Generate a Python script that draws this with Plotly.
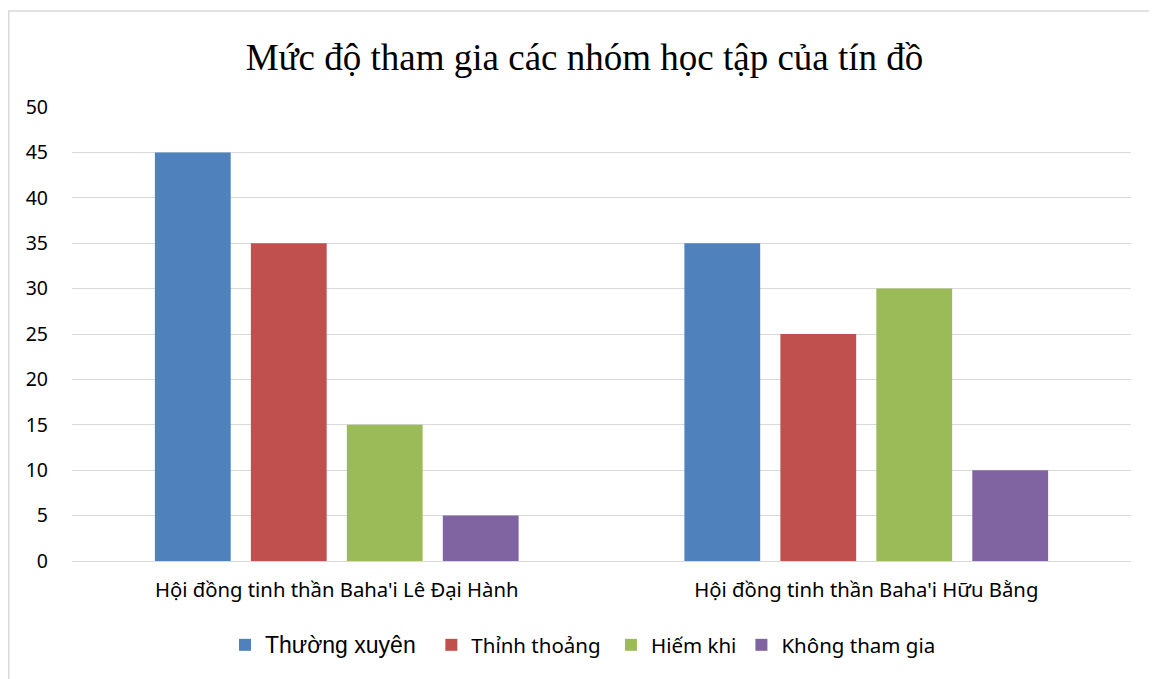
import plotly.graph_objects as go

categories = ["Hội đồng tinh thần Baha'i Lê Đại Hành", "Hội đồng tinh thần Baha'i Hữu Bằng"]
series_names = ["Thường xuyên", "Thỉnh thoảng", "Hiếm khi", "Không tham gia"]
thuong_xuyen = [45, 35]
thinh_thoang = [35, 25]
hiem_khi = [15, 30]
khong_tham_gia = [5, 10]
colors = ["#4f81bd", "#c0504d", "#9bbb59", "#8064a2"]
y_ticks = list(range(0, 51, 5))

# page has an 8px body margin; positions below are in figure pixels
W, H = 1157, 679
L, T = 64, 99
pw, ph = 1059, 454
R, B = W - L - pw, H - T - ph

pad = ["&nbsp;&nbsp;", "&nbsp;", "", ""]
fig = go.Figure()
values = [thuong_xuyen, thinh_thoang, hiem_khi, khong_tham_gia]
for i, (name, vals) in enumerate(zip(series_names, values)):
    label = name
    if i == 0:
        label = '<span style="font-family:Liberation Sans;font-size:23px">' + name + '</span>'
    label = label + pad[i]
    fig.add_trace(go.Bar(x=categories, y=vals, name=label, marker_color=colors[i],
                         marker_line_width=0))

fig.update_layout(
    width=W, height=H,
    margin=dict(l=L, r=R, t=T, b=B, autoexpand=False),
    paper_bgcolor="white", plot_bgcolor="white",
    barmode="group", bargap=0.275, bargroupgap=0.21,
    title=dict(text="Mức độ tham gia các nhóm học tập của tín đồ",
               font=dict(family="Liberation Serif", size=37, color="black"),
               x=576.5 / W, xanchor="center", y=1 - 49 / H, yanchor="middle"),
    font=dict(family="Noto Sans", color="black"),
    legend=dict(orientation="h", x=(575 - L) / pw, xanchor="center", y=-84 / ph, yanchor="middle",
                font=dict(size=20.5, family="Noto Sans", color="black"),
                itemwidth=30, traceorder="normal"),
    showlegend=True,
)
fig.update_xaxes(showgrid=False, showline=False, ticks="", tickfont=dict(size=20.3, color="black"),
                 ticklabelstandoff=15)
fig.update_yaxes(range=[0, 50], tickvals=y_ticks, showgrid=True, gridcolor="#d9d9d9", gridwidth=1.3,
                 zeroline=True, zerolinecolor="#d9d9d9", zerolinewidth=1.3, showline=False,
                 ticks="", tickfont=dict(size=19.5, color="black"), ticklabelstandoff=23)

# outer chart border
x0 = (0.8 - L) / pw
x1 = (W + 5 - L) / pw
y1 = 1 + (T - 3) / ph
y0 = -(H + 5 - T - ph) / ph
fig.add_shape(type="rect", xref="paper", yref="paper", x0=x0, x1=x1, y0=y0, y1=y1,
              line=dict(color="#d9d9d9", width=1.5), fillcolor="rgba(0,0,0,0)", layer="below")

fig.write_html("out.html")
